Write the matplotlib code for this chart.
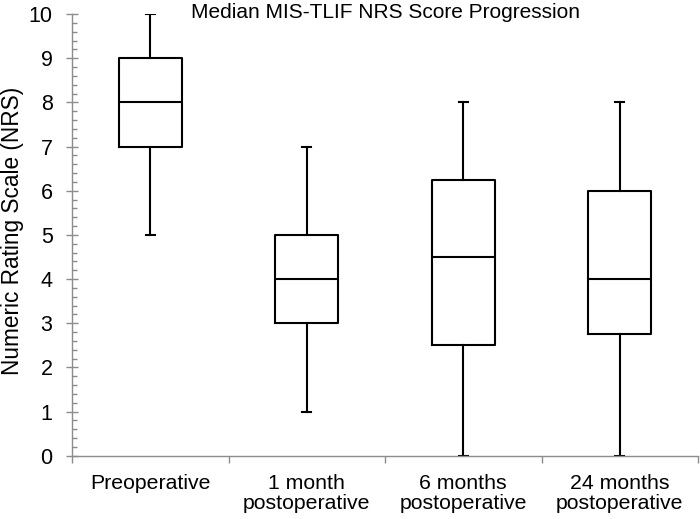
import matplotlib
matplotlib.use("Agg")
import matplotlib.pyplot as plt
from matplotlib.ticker import MultipleLocator

plt.rcParams['font.family'] = ['Liberation Sans', 'DejaVu Sans']

categories = ["Preoperative", "1 month\npostoperative", "6 months\npostoperative", "24 months\npostoperative"]
whislo = [5, 1, 0, 0]
q1 = [7, 3, 2.5, 2.75]
med = [8, 4, 4.5, 4]
q3 = [9, 5, 6.25, 6]
whishi = [10, 7, 8, 8]

title = "Median MIS-TLIF NRS Score Progression"
ylabel = "Numeric Rating Scale (NRS)"

stats = []
for i, c in enumerate(categories):
    stats.append(dict(label=c, whislo=whislo[i], q1=q1[i], med=med[i], q3=q3[i], whishi=whishi[i]))

fig = plt.figure(figsize=(7.0, 5.19), dpi=100)
ax = fig.add_axes([72/700, 1-455.7/519, (698-72)/700, (455.7-14)/519])

positions = list(range(1, len(categories) + 1))
lw = 1.5
ax.bxp(stats, positions=positions, widths=0.4, capwidths=0.055, showfliers=False,
       boxprops=dict(color='black', linewidth=lw),
       medianprops=dict(color='black', linewidth=lw),
       whiskerprops=dict(color='black', linewidth=lw),
       capprops=dict(color='black', linewidth=lw),
       manage_ticks=False)

ax.set_xlim(0.5, len(categories) + 0.5)
ax.set_ylim(0, 10)

for s in ['top', 'right']:
    ax.spines[s].set_visible(False)
for s in ['left', 'bottom']:
    ax.spines[s].set_color('#8c8c8c')
    ax.spines[s].set_linewidth(1.0)

ax.yaxis.set_major_locator(MultipleLocator(1))
ax.yaxis.set_minor_locator(MultipleLocator(0.2))
ax.tick_params(axis='y', which='major', direction='inout', length=8, width=1.0,
               color='#8c8c8c', labelsize=15.5, pad=10)
ax.tick_params(axis='y', which='minor', direction='in', length=3.5, width=1.0, color='#8c8c8c')

bounds = [p - 0.5 for p in positions] + [positions[-1] + 0.5]
ax.set_xticks(bounds)
ax.set_xticklabels([''] * len(bounds))
ax.set_xticks(positions, minor=True)
ax.set_xticklabels(categories, minor=True, fontsize=15.3, linespacing=1.1)
ax.tick_params(axis='x', which='major', direction='out', length=5, width=1.0, color='#8c8c8c')
ax.tick_params(axis='x', which='minor', length=0, pad=13)

fig.text(12.5 / 700, 1 - 231 / 519, ylabel, rotation=90, ha='center', va='center', fontsize=16.3)
fig.text(0.5 * (72 + 698) / 700, 1 - 17.5 / 519, title, ha='center', va='baseline', fontsize=15)

fig.savefig("out.png", dpi=100)
